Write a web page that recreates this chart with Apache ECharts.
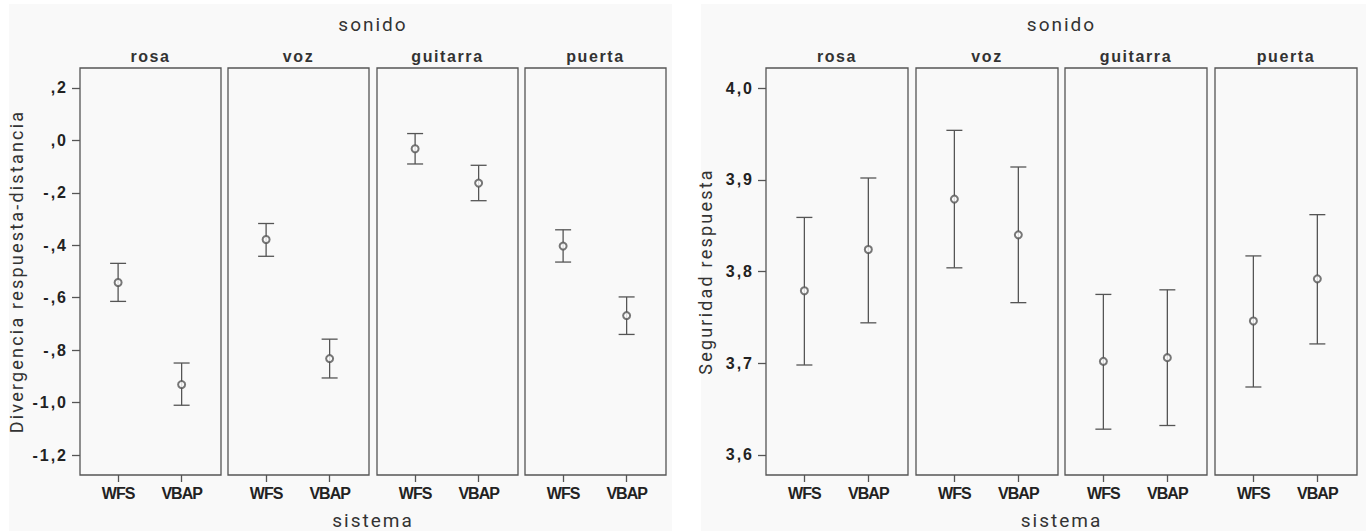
<!DOCTYPE html>
<html>
<head>
<meta charset="utf-8">
<script src="https://cdn.jsdelivr.net/npm/echarts@6/dist/echarts.min.js"></script>
<style>
  html, body { margin: 0; padding: 0; background: #fff; }
  #main { width: 1366px; height: 531px; }
</style>
</head>
<body>
<div id="main"></div>
<script>
// datos
var sonidos = ['rosa', 'voz', 'guitarra', 'puerta'];
var sistemas = ['WFS', 'VBAP'];

// Divergencia respuesta-distancia (media, limite inferior, limite superior) por sonido: [WFS, VBAP]
var divMedia = [[-0.542, -0.931], [-0.378, -0.832], [-0.032, -0.163], [-0.403, -0.668]];
var divInf   = [[-0.614, -1.010], [-0.442, -0.906], [-0.090, -0.230], [-0.464, -0.740]];
var divSup   = [[-0.469, -0.849], [-0.317, -0.758], [ 0.026, -0.095], [-0.341, -0.597]];
var divTicks = [-1.2, -1.0, -0.8, -0.6, -0.4, -0.2, 0.0, 0.2];
var divTickLabels = ['-1,2', '-1,0', '-,8', '-,6', '-,4', '-,2', ',0', ',2'];

// Seguridad respuesta
var segMedia = [[3.779, 3.824], [3.879, 3.840], [3.702, 3.706], [3.746, 3.792]];
var segInf   = [[3.698, 3.744], [3.804, 3.766], [3.628, 3.632], [3.674, 3.721]];
var segSup   = [[3.859, 3.902], [3.954, 3.914], [3.775, 3.780], [3.817, 3.862]];
var segTicks = [3.6, 3.7, 3.8, 3.9, 4.0];
var segTickLabels = ['3,6', '3,7', '3,8', '3,9', '4,0'];

var colorLinea = '#555';
var fondo = '#f9f9f9';

// layout de los paneles
var panelTop = 68, panelH = 407;
var paneles = [
  { lefts: [80, 228, 377, 525], w: 141, yName: 'Divergencia respuesta-distancia', nameGap: 55,
    ymin: -1.276, ymax: 0.276, ticks: divTicks, labels: divTickLabels,
    media: divMedia, inf: divInf, sup: divSup },
  { lefts: [766, 916, 1065, 1215], w: 142, yName: 'Seguridad respuesta', nameGap: 52,
    ymin: 3.578, ymax: 4.022, ticks: segTicks, labels: segTickLabels,
    media: segMedia, inf: segInf, sup: segSup }
];

var grids = [], xAxes = [], yAxes = [], series = [], graphics = [];

// fondos
graphics.push({ type: 'rect', z: -10, shape: { x: 9, y: 4, width: 663, height: 527 }, style: { fill: fondo } });
graphics.push({ type: 'rect', z: -10, shape: { x: 701, y: 4, width: 665, height: 527 }, style: { fill: fondo } });

function errorBar(params, api) {
  var x = api.value(0);
  var lo = api.coord([x, api.value(1)]);
  var hi = api.coord([x, api.value(2)]);
  var c = 8;
  var st = { stroke: colorLinea, lineWidth: 1.3 };
  return {
    type: 'group',
    children: [
      { type: 'line', shape: { x1: lo[0], y1: lo[1], x2: hi[0], y2: hi[1] }, style: st },
      { type: 'line', shape: { x1: lo[0] - c, y1: lo[1], x2: lo[0] + c, y2: lo[1] }, style: st },
      { type: 'line', shape: { x1: hi[0] - c, y1: hi[1], x2: hi[0] + c, y2: hi[1] }, style: st }
    ]
  };
}

paneles.forEach(function (p) {
  var first = p.lefts[0];
  var last = p.lefts[p.lefts.length - 1] + p.w;
  var centro = (first + last) / 2;

  graphics.push({ type: 'text', x: centro, y: 24, style: {
    text: 'sonido', align: 'center', verticalAlign: 'middle',
    font: '19px Roboto', fill: '#333' } });
  graphics.push({ type: 'text', x: centro, y: 520, style: {
    text: 'sistema', align: 'center', verticalAlign: 'middle',
    font: '19px Roboto', fill: '#333' } });

  sonidos.forEach(function (s, k) {
    var gi = grids.length;
    grids.push({
      left: p.lefts[k], top: panelTop, width: p.w, height: panelH,
      show: true, borderColor: colorLinea, borderWidth: 1.3, backgroundColor: fondo,
      containLabel: false, outerBoundsMode: 'none'
    });
    graphics.push({ type: 'text', x: p.lefts[k] + p.w / 2, y: 56, style: {
      text: s, align: 'center', verticalAlign: 'middle',
      font: 'bold 16px "Liberation Sans"', fill: '#333' } });

    xAxes.push({
      gridIndex: gi, type: 'value', min: -0.6, max: 1.62,
      axisLine: { show: false, onZero: false },
      splitLine: { show: false },
      axisTick: { show: true, length: 7, inside: false, customValues: [0, 1],
        lineStyle: { color: colorLinea, width: 1.3 } },
      axisLabel: { show: true, customValues: [0, 1], margin: 10,
        formatter: function (v) { return sistemas[Math.round(v)]; },
        color: '#222', fontSize: 16, fontWeight: 'bold', fontFamily: 'Liberation Sans' }
    });
    yAxes.push({
      gridIndex: gi, type: 'value', min: p.ymin, max: p.ymax,
      name: k === 0 ? p.yName : '', nameLocation: 'middle', nameGap: p.nameGap,
      nameTextStyle: { fontSize: 18, fontFamily: 'Roboto', color: '#333' },
      axisLine: { show: false, onZero: false },
      splitLine: { show: false },
      axisTick: { show: k === 0, length: 8, customValues: p.ticks,
        lineStyle: { color: colorLinea, width: 1.3 } },
      axisLabel: { show: k === 0, customValues: p.ticks, margin: 12,
        formatter: function (v) {
          var i = p.ticks.findIndex(function (t) { return Math.abs(t - v) < 1e-6; });
          return i >= 0 ? p.labels[i] : '';
        },
        color: '#222', fontSize: 16, fontWeight: 'bold', fontFamily: 'Liberation Sans' }
    });

    var barras = sistemas.map(function (sis, j) { return [j, p.inf[k][j], p.sup[k][j]]; });
    var medias = sistemas.map(function (sis, j) { return [j, p.media[k][j]]; });

    series.push({
      type: 'custom', xAxisIndex: gi, yAxisIndex: gi,
      renderItem: errorBar, data: barras, silent: true, clip: false
    });
    series.push({
      type: 'scatter', xAxisIndex: gi, yAxisIndex: gi, data: medias,
      symbol: 'emptyCircle', symbolSize: 7,
      itemStyle: { color: colorLinea, borderWidth: 1 },
      silent: true, z: 5
    });
  });
});

var chart = echarts.init(document.getElementById('main'), null, { renderer: 'svg' });
chart.setOption({
  animation: false,
  backgroundColor: '#fff',
  grid: grids,
  xAxis: xAxes,
  yAxis: yAxes,
  graphic: graphics,
  series: series
});

// espaciado de letras como en el original (SPSS)
function espaciado() {
  var tickTxt = divTickLabels.concat(segTickLabels);
  document.querySelectorAll('#main svg text').forEach(function (t) {
    var s = t.textContent;
    var ls = 0;
    if (s === 'sonido' || s === 'sistema') ls = 2;
    else if (s === paneles[0].yName || s === paneles[1].yName) ls = 2.2;
    else if (sonidos.indexOf(s) >= 0) ls = 1.6;
    else if (tickTxt.indexOf(s) >= 0) ls = 2;
    else if (sistemas.indexOf(s) >= 0) ls = -1;
    if (ls) t.style.letterSpacing = ls + 'px';
  });
}
espaciado();
chart.on('finished', espaciado);
</script>
</body>
</html>
